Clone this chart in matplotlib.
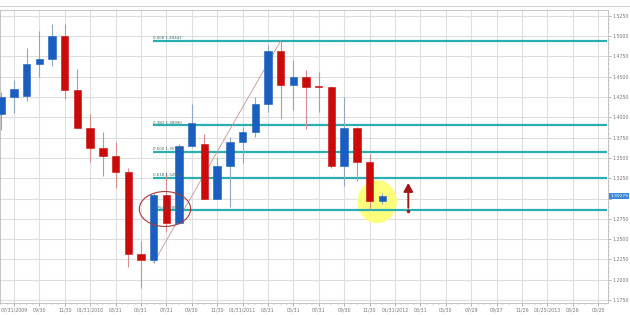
import numpy as np
import matplotlib
matplotlib.use("Agg")
import matplotlib.pyplot as plt
from matplotlib.patches import Ellipse, Rectangle
from matplotlib.lines import Line2D

# monthly EUR/USD candles, month index 0 = gridline "07/31/2009"
months = list(range(-1, 30))
opens = [1.4040, 1.4253, 1.4265, 1.4651, 1.4717, 1.5004, 1.4335, 1.3871, 1.3625, 1.3523,
         1.3322, 1.2317, 1.2243, 1.3043, 1.2695, 1.3646, 1.3671, 1.2994, 1.3404, 1.3695,
         1.3815, 1.4163, 1.4819, 1.4397, 1.4499, 1.4380, 1.4376, 1.3400, 1.3864, 1.3453, 1.2973]
closes = [1.4253, 1.4348, 1.4655, 1.4717, 1.5004, 1.4335, 1.3871, 1.3625, 1.3523, 1.3322,
          1.2317, 1.2243, 1.3043, 1.2695, 1.3646, 1.3926, 1.2994, 1.3404, 1.3695, 1.3815,
          1.4163, 1.4819, 1.4397, 1.4499, 1.4376, 1.4370, 1.3400, 1.3864, 1.3453, 1.2973, 1.3028]
highs = [1.4314, 1.4458, 1.4852, 1.5065, 1.5148, 1.5148, 1.4590, 1.4040, 1.3822, 1.3699,
         1.3372, 1.2481, 1.3071, 1.3330, 1.3671, 1.4159, 1.3790, 1.3514, 1.3761, 1.3876,
         1.4253, 1.4889, 1.4942, 1.4705, 1.4582, 1.4561, 1.4380, 1.4253, 1.3884, 1.3548, 1.3064]
lows = [1.3843, 1.4056, 1.4204, 1.4495, 1.4634, 1.4225, 1.3865, 1.3453, 1.3281, 1.3133,
        1.2161, 1.1895, 1.2210, 1.2591, 1.2686, 1.3630, 1.2990, 1.2990, 1.2892, 1.3441,
        1.3761, 1.4068, 1.3975, 1.4089, 1.3852, 1.4068, 1.3372, 1.3157, 1.3219, 1.2867, 1.2932]

x_labels = ["07/31/2009", "09/30", "11/30", "01/31/2010", "03/31", "05/31", "07/31", "09/30",
            "11/30", "01/31/2011", "03/31", "05/31", "07/31", "09/30", "11/30", "01/31/2012",
            "03/31", "05/30", "07/29", "09/27", "11/26", "01/25/2013", "03/26", "05/25"]
y_ticks = [1.1750, 1.2000, 1.2250, 1.2500, 1.2750, 1.3000, 1.3250, 1.3500,
           1.3750, 1.4000, 1.4250, 1.4500, 1.4750, 1.5000, 1.5250]

fib_ratios = [0.000, 0.382, 0.500, 0.618, 0.764]
fib_high = 1.49442
fib_low = 1.22082
current_price = 1.30279

up_col = "#1a5fbf"
dn_col = "#cc0a0a"
teal = "#2aaeb0"

fig = plt.figure(figsize=(6.3, 3.15), dpi=100)
ax = fig.add_axes([0.0, 0.038, 0.965, 0.93])
ax.set_xlim(-1.1, 46.77)
ax.set_ylim(1.1713, 1.532)

# grid + ticks
ax.set_xticks(range(0, 47, 2))
ax.set_xticklabels(x_labels)
ax.set_xticks(np.arange(-1, 47, 0.5), minor=True)
ax.set_yticks(y_ticks)
# 1.3000 sits under the current price tag
ax.set_yticklabels(["" if abs(v - 1.30) < 1e-9 else "%.4f" % v for v in y_ticks])
ax.set_yticks(np.arange(1.175, 1.53, 0.005), minor=True)
ax.grid(True, which="major", color="#dedede", lw=0.8)
ax.set_axisbelow(True)
ax.yaxis.tick_right()
ax.tick_params(axis="both", which="major", labelsize=3.4, colors="#777777", length=2, width=0.4, pad=1.5)
ax.tick_params(axis="both", which="minor", length=1.2, width=0.3, colors="#999999")
for s in ax.spines.values():
    s.set_color("#bbbbbb")
    s.set_linewidth(0.6)

# thin frame line above the chart panel
fig.add_artist(Line2D([0, 1], [0.981, 0.981], transform=fig.transFigure, color="#cccccc", lw=0.6))

# yellow highlight behind candles
ax.add_patch(Ellipse((28.6, 1.2961), 3.1, 0.053, facecolor="#ffff70", edgecolor="none", alpha=0.9, zorder=1))

# fibonacci levels
fib_range = fib_high - fib_low
for r in fib_ratios:
    lvl = fib_high - r * fib_range
    ax.hlines(lvl, 10.94, 46.67, color=teal, lw=1.6, zorder=2)
    ax.text(10.94, lvl + 0.001, "%.3f %.5f" % (r, lvl), fontsize=2.9, color="#3a6a6a",
            va="bottom", ha="left", zorder=5)

# trend line from swing low to swing high
ax.plot([months[12], months[22]], [lows[12], highs[22]], color="#c49494", lw=0.6, zorder=3)

# candles
w = 0.58
for m, o, h, l, c in zip(months, opens, highs, lows, closes):
    up = c >= o
    col = up_col if up else dn_col
    wick = "#8fa6c6" if up else "#d48e8e"
    ax.vlines(m, l, h, color=wick, lw=0.8, zorder=3)
    lo, hi = min(o, c), max(o, c)
    ax.add_patch(Rectangle((m - w / 2, lo), w, max(hi - lo, 0.0008), facecolor=col,
                           edgecolor=col, lw=0.4, zorder=4))

# red ellipse around the 0.764 area
ax.add_patch(Ellipse((11.89, 1.2871), 4.04, 0.043, facecolor="none", edgecolor="#a83a3a",
                     lw=0.8, zorder=6))

# arrow
ax.annotate("", xy=(31.05, 1.3225), xytext=(31.05, 1.2852),
            arrowprops=dict(arrowstyle="-|>,head_width=0.28,head_length=0.5", color="#a31515", lw=1.4),
            zorder=6)
ax.plot(31.05, 1.2852, marker="o", ms=1.5, color="#a31515", zorder=6)

# current price tag
ax.text(1.004, current_price, "%.5f" % current_price, transform=ax.get_yaxis_transform(),
        fontsize=3.2, color="white", va="center", ha="left",
        bbox=dict(boxstyle="square,pad=0.25", facecolor="#3b8ad8", edgecolor="none"))

fig.savefig("out.png", dpi=100)
